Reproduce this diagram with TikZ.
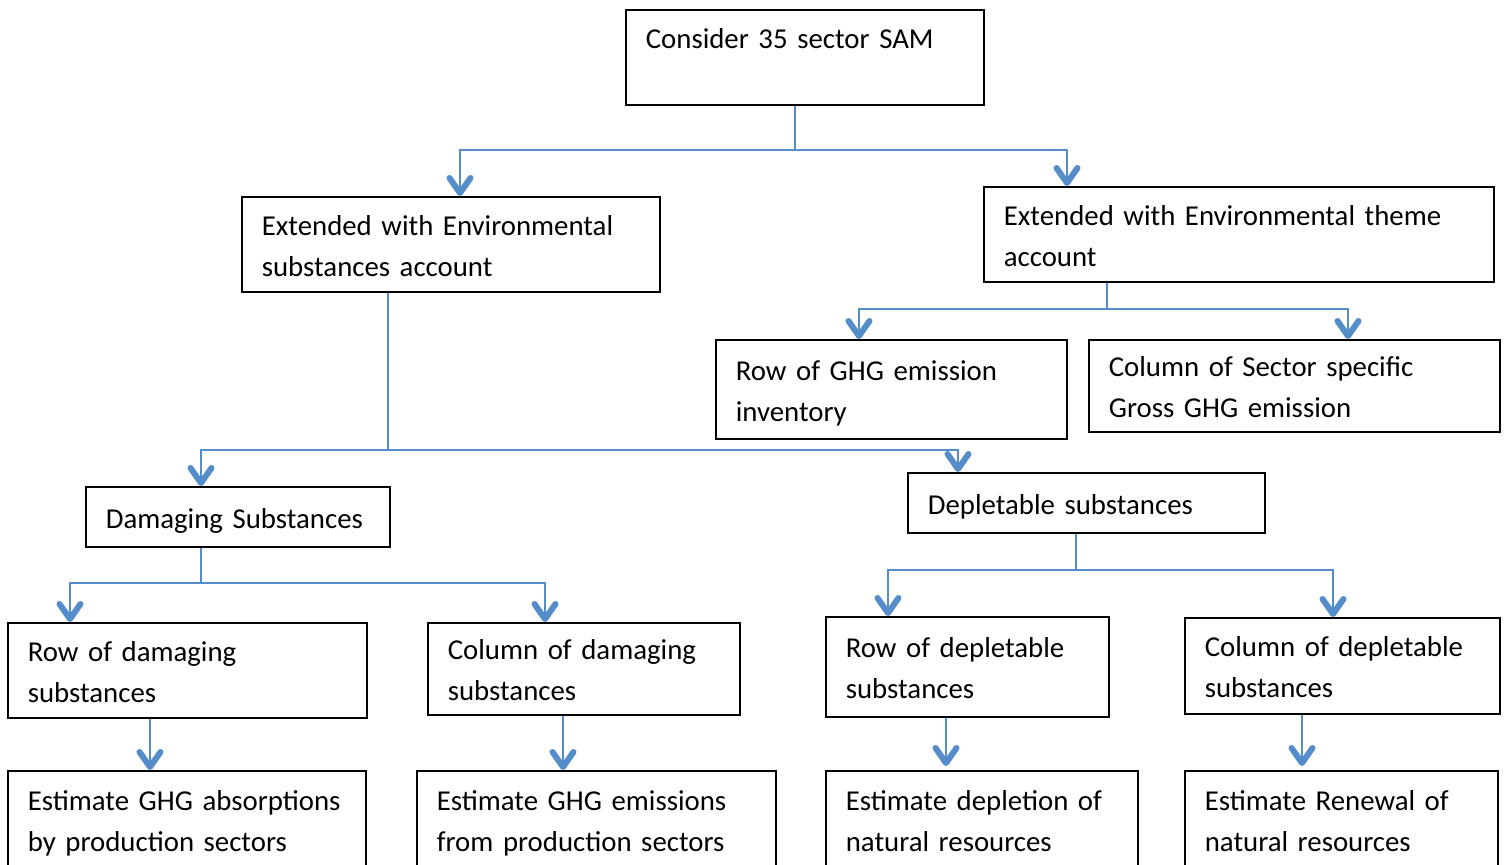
\documentclass[tikz,border=0pt]{standalone}
\usepackage{fontspec}
\setmainfont{Carlito}
\usetikzlibrary{arrows.meta}
\definecolor{conncol}{RGB}{84,141,201}
\begin{document}
\begin{tikzpicture}[x=1pt,y=-1pt,
  box/.style={draw=black, line width=1.7pt, anchor=north west, inner xsep=20pt, inner ysep=2pt,
    align=left, font=\fontsize{28.8}{41}\selectfont},
  conn/.style={draw=conncol, line width=2.4pt},
  arr/.style={conn, -{Straight Barb[length=15pt,width=21pt,line width=6pt 0 1,round]}}]
\useasboundingbox (0,0) rectangle (1508,865);
\fill[white] (0,0) rectangle (1508,865);
\newcommand{\bx}[7]{\node[box, minimum width=#4pt, minimum height=#5pt, text width=#6pt] (#1) at (#2,#3) {#7};}
\newcommand{\fst}{\rule{0pt}{34.7pt}}
\bx{top}{625}{9}{358}{95}{318}{\fst Consider 35 sector SAM\\\strut}
\bx{envS}{241}{196}{418}{95}{378}{\fst Extended with Environmental\\\strut substances account}
\bx{envT}{983}{186}{510}{95}{470}{\fst Extended with Environmental theme\\\strut account}
\bx{rowG}{715}{339}{351}{99}{311}{\fst Row of GHG emission\\\strut inventory}
\bx{colS}{1088}{339}{411}{91}{371}{\fst Column of Sector specific\\\strut Gross GHG emission}
\bx{dam}{85}{486}{304}{60}{264}{\rule{0pt}{28pt}Damaging Substances}
\bx{dep}{907}{472}{357}{60}{317}{\rule{0pt}{28pt}Depletable substances}
\bx{rowD}{7}{622}{359}{95}{319}{\fst Row of damaging\\\strut substances}
\bx{colD}{427}{622}{312}{90}{272}{\fst Column of damaging\\\strut substances}
\bx{rowP}{825}{616}{283}{100}{243}{\fst Row of depletable\\\strut substances}
\bx{colP}{1184}{617}{315}{96}{275}{\fst Column of depletable\\\strut substances}
\bx{estA}{7}{770}{358}{98}{318}{\fst Estimate GHG absorptions\\\strut by production sectors}
\bx{estE}{416}{770}{359}{98}{319}{\fst Estimate GHG emissions\\\strut from production sectors}
\bx{estD}{825}{770}{312}{98}{272}{\fst Estimate depletion of\\\strut natural resources}
\bx{estR}{1184}{770}{313}{98}{273}{\fst Estimate Renewal of\\\strut natural resources}
% branch coordinates
\coordinate (j1) at (795,150); \coordinate (j1L) at (460,150); \coordinate (j1R) at (1067,150);
\coordinate (j2) at (388,450); \coordinate (j2L) at (201,450); \coordinate (j2R) at (958,450);
\coordinate (j3) at (1107,309); \coordinate (j3L) at (859,309); \coordinate (j3R) at (1348,309);
\coordinate (j4) at (201,583); \coordinate (j4L) at (70,583); \coordinate (j4R) at (545,583);
\coordinate (j5) at (1076,570); \coordinate (j5L) at (888,570); \coordinate (j5R) at (1333,570);
\coordinate (v1) at (150,0); \coordinate (v2) at (563,0); \coordinate (v3) at (946,0); \coordinate (v4) at (1302,0);
% connectors
\draw[conn] (top.south -| j1) -- (j1);
\draw[arr] (j1) -| (envS.north -| j1L);
\draw[arr] (j1) -| (envT.north -| j1R);
\draw[conn] (envS.south -| j2) -- (j2);
\draw[arr] (j2) -| (dam.north -| j2L);
\draw[arr] (j2) -| (dep.north -| j2R);
\draw[conn] (envT.south -| j3) -- (j3);
\draw[arr] (j3) -| (rowG.north -| j3L);
\draw[arr] (j3) -| (colS.north -| j3R);
\draw[conn] (dam.south -| j4) -- (j4);
\draw[arr] (j4) -| (rowD.north -| j4L);
\draw[arr] (j4) -| (colD.north -| j4R);
\draw[conn] (dep.south -| j5) -- (j5);
\draw[arr] (j5) -| (rowP.north -| j5L);
\draw[arr] (j5) -| (colP.north -| j5R);
\draw[arr] (rowD.south -| v1) -- (estA.north -| v1);
\draw[arr] (colD.south -| v2) -- (estE.north -| v2);
\draw[arr] (rowP.south -| v3) -- ([yshift=4pt]estD.north -| v3);
\draw[arr] (colP.south -| v4) -- ([yshift=4pt]estR.north -| v4);
\end{tikzpicture}
\end{document}
